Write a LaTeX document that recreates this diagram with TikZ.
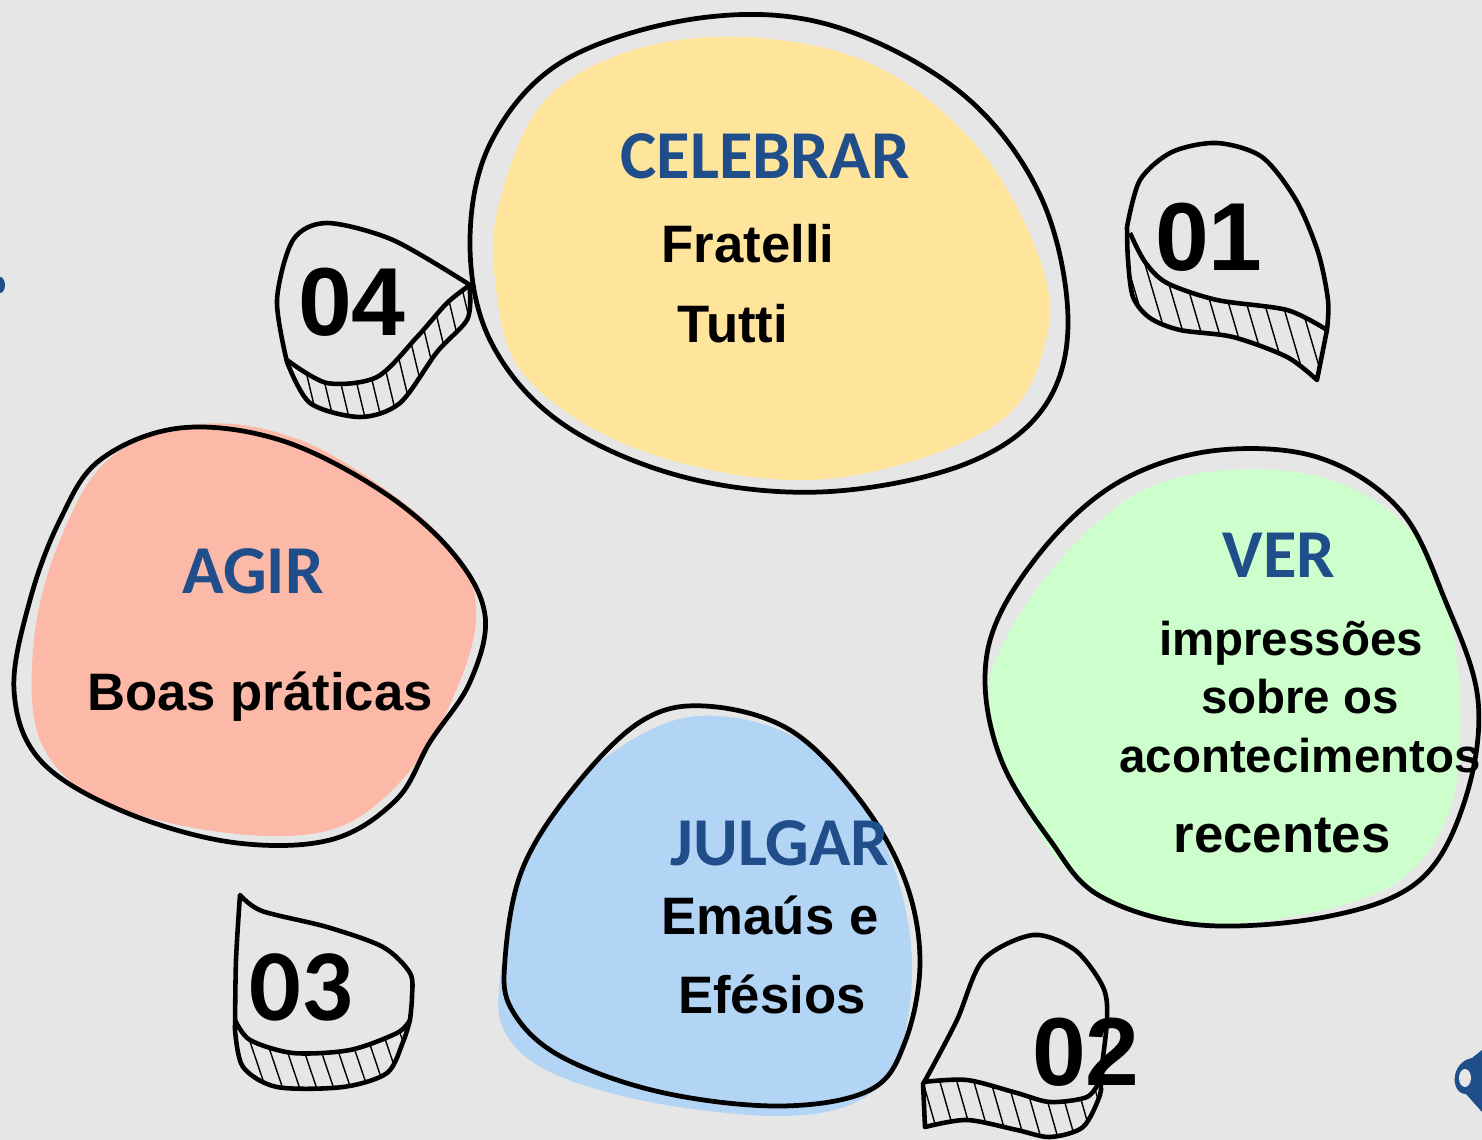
\documentclass[tikz,border=0pt]{standalone}
\usepackage{fontspec}
\setmainfont{Liberation Sans}
\newfontfamily\titlefont{Carlito}
\usepackage{tikz}
\usetikzlibrary{positioning}
\definecolor{bggray}{HTML}{E6E6E6}
\definecolor{celyellow}{HTML}{FFE49C}
\definecolor{agirsalmon}{HTML}{FDB9A7}
\definecolor{vergreen}{HTML}{CCFFCC}
\definecolor{julblue}{HTML}{B2D4F5}
\definecolor{titleblue}{HTML}{1F4E8A}

\begin{document}
\begin{tikzpicture}[
    x=0.02cm, y=-0.02cm,
    blobline/.style={line width=2.7pt, line join=round},
    dropline/.style={line width=2.6pt, line join=round},
    hatch/.style={line width=0.8pt},
    title/.style={anchor=base, text=titleblue, font=\titlefont\bfseries\fontsize{39}{46}\selectfont},
    body/.style={anchor=base, font=\bfseries\fontsize{30}{36}\selectfont},
    small/.style={anchor=base, font=\bfseries\fontsize{27}{32}\selectfont},
    num/.style={anchor=base, font=\bfseries\fontsize{55}{60}\selectfont},
]

% Background
\fill[bggray] (0,0) rectangle (1482,1140);
\useasboundingbox (0,0) rectangle (1482,1140);

% Blobs: fill first, sketchy outline on top
\fill[celyellow] plot[smooth cycle, tension=0.6] coordinates {(500,200) (545,100) (640,48) (760,38) (880,68) (980,150) (1040,260) (1046,340) (1002,420) (880,470) (760,478) (620,442) (522,372) (495,280)};
\draw[blobline] plot[smooth cycle, tension=0.6] coordinates {(470,240) (492,140) (565,60) (700,18) (830,25) (960,92) (1040,195) (1068,320) (1042,410) (960,466) (820,492) (680,476) (560,422) (490,340)};

\fill[agirsalmon] plot[smooth cycle, tension=0.6] coordinates {(110,458) (200,424) (300,440) (400,500) (460,560) (476,620) (452,700) (402,780) (330,830) (220,832) (100,800) (40,740) (34,640) (60,540)};
\draw[blobline] plot[smooth cycle, tension=0.6] coordinates {(100,460) (180,428) (280,440) (380,490) (452,552) (485,615) (470,682) (430,742) (396,800) (330,840) (230,842) (120,810) (40,760) (14,690) (30,600) (60,520)};

\fill[vergreen] plot[smooth cycle, tension=0.6] coordinates {(1000,650) (1060,560) (1140,492) (1230,470) (1330,480) (1410,530) (1450,620) (1460,720) (1450,810) (1400,880) (1300,915) (1180,922) (1080,882) (1020,800) (990,710)};
\draw[blobline] plot[smooth cycle, tension=0.6] coordinates {(985,680) (1002,610) (1060,530) (1130,476) (1220,450) (1320,458) (1400,510) (1445,600) (1478,700) (1465,800) (1420,880) (1330,916) (1200,925) (1100,896) (1050,840) (1002,762)};

\fill[julblue] plot[smooth cycle, tension=0.6] coordinates {(500,980) (520,880) (570,790) (650,730) (720,716) (800,740) (860,800) (895,870) (912,960) (900,1050) (860,1100) (780,1116) (650,1102) (550,1072) (505,1032)};
\draw[blobline] plot[smooth cycle, tension=0.6] coordinates {(505,960) (522,870) (572,790) (640,722) (705,706) (790,730) (860,800) (905,880) (920,962) (905,1042) (870,1090) (780,1106) (660,1092) (560,1056) (512,1010)};

% Drop 01
\begin{scope}
  \clip plot[smooth] coordinates {(1130,233) (1145,262) (1167,283) (1217,300) (1287,310) (1327,330)} -- (1317,380)
    -- plot[smooth] coordinates {(1317,380) (1287,357) (1233,337) (1180,330) (1150,318) (1133,297) (1128,260) (1127,227)} -- cycle;
  \foreach \x in {1060,1078,...,1340} \draw[hatch] (\x,220) -- ++(50,170);
\end{scope}
\draw[dropline] plot[smooth] coordinates {(1127,227) (1140,180) (1172,152) (1217,143) (1262,157) (1296,200) (1318,252) (1328,300) (1327,330)} -- (1317,380)
  -- plot[smooth] coordinates {(1317,380) (1287,357) (1233,337) (1180,330) (1150,318) (1133,297) (1128,260) (1127,227)};
\draw[dropline] plot[smooth] coordinates {(1130,233) (1145,262) (1167,283) (1217,300) (1287,310) (1327,330)};

% Drop 04
\begin{scope}
  \clip plot[smooth] coordinates {(287,360) (327,383) (377,377) (417,337) (447,303) (470,285)} -- (470,293)
    -- plot[smooth] coordinates {(470,293) (467,320) (437,352) (400,403) (360,417) (310,403) (287,360)} -- cycle;
  \foreach \x in {220,236,...,480} \draw[hatch] (\x,280) -- ++(36,150);
\end{scope}
\draw[dropline] plot[smooth] coordinates {(287,362) (277,300) (293,240) (327,223) (393,240) (470,285)} -- (470,293)
  -- plot[smooth] coordinates {(470,293) (467,320) (437,352) (400,403) (360,417) (310,403) (287,362)};
\draw[dropline] plot[smooth] coordinates {(287,360) (327,383) (377,377) (417,337) (447,303) (470,285)};

% Drop 03
\begin{scope}
  \clip plot[smooth] coordinates {(235,1020) (250,1040) (293,1053) (350,1050) (397,1033) (410,1020)}
    -- plot[smooth] coordinates {(410,1020) (403,1042) (387,1073) (343,1087) (277,1087) (243,1067) (235,1030)} -- cycle;
  \foreach \x in {190,207,...,420} \draw[hatch] (\x,1015) -- ++(27,80);
\end{scope}
\draw[dropline] (235,1030) -- plot[smooth] coordinates {(235,1030) (236,960) (240,895)} -- plot[smooth] coordinates {(240,895) (262,911) (327,927) (383,947) (410,973) (412,997) (410,1020)}
  -- plot[smooth] coordinates {(410,1020) (403,1042) (387,1073) (343,1087) (277,1087) (243,1067) (235,1030)};
\draw[dropline] plot[smooth] coordinates {(235,1020) (250,1040) (293,1053) (350,1050) (397,1033) (410,1020)};

% Drop 02
\begin{scope}
  \clip plot[smooth] coordinates {(923,1082) (967,1080) (1017,1093) (1050,1102) (1087,1097) (1100,1080)}
    -- plot[smooth] coordinates {(1100,1080) (1100,1095) (1083,1127) (1050,1137) (1017,1130) (967,1120) (925,1127)} -- cycle;
  \foreach \x in {870,887,...,1120} \draw[hatch] (\x,1075) -- ++(20,70);
\end{scope}
\draw[dropline] plot[smooth] coordinates {(1100,1080) (1107,1020) (1103,987) (1075,950) (1033,935) (983,960) (957,1020) (927,1077) (923,1083)} -- (925,1127)
  -- plot[smooth] coordinates {(925,1127) (967,1120) (1017,1130) (1050,1137) (1083,1127) (1100,1095) (1100,1080)};
\draw[dropline] plot[smooth] coordinates {(923,1082) (967,1080) (1017,1093) (1050,1102) (1087,1097) (1100,1080)};

% Edge bits
\fill[titleblue] (0,285) ellipse (5 and 8);
\fill[titleblue] (1482,1050) -- (1472,1058) .. controls (1450,1062) and (1450,1094) .. (1466,1094) -- (1482,1112) -- cycle;
\fill[bggray] (1465,1078) ellipse (6 and 9);

% Labels
\node[title] (celebrar) at (765,178) {CELEBRAR};
\node[body] (fratelli) at (748,262) {Fratelli};
\node[body] (tutti) at (733,342) {Tutti};

\node[title] (agir) at (253,593) {AGIR};
\node[body] (boas) at (260,710) {Boas práticas};

\node[title] (ver) at (1279,577) {VER};
\node[small] (impressoes) at (1291,655) {impressões};
\node[small] (sobre) at (1300,713) {sobre os};
\node[small] (aconte) at (1300,772) {acontecimentos};
\node[body] (recentes) at (1282,852) {recentes};

\node[title] (julgar) at (780,865) {JULGAR};
\node[body] (emaus) at (770,934) {Emaús e};
\node[body] (efesios) at (772,1013) {Efésios};

% Step numbers
\node[num] (n01) at (1209,270) {01};
\node[num] (n04) at (352,335) {04};
\node[num] (n02) at (1086,1085) {02};
\node[anchor=base, font=\titlefont\bfseries\fontsize{58}{62}\selectfont] (n03) at (301,1020) {03};

\end{tikzpicture}
\end{document}
